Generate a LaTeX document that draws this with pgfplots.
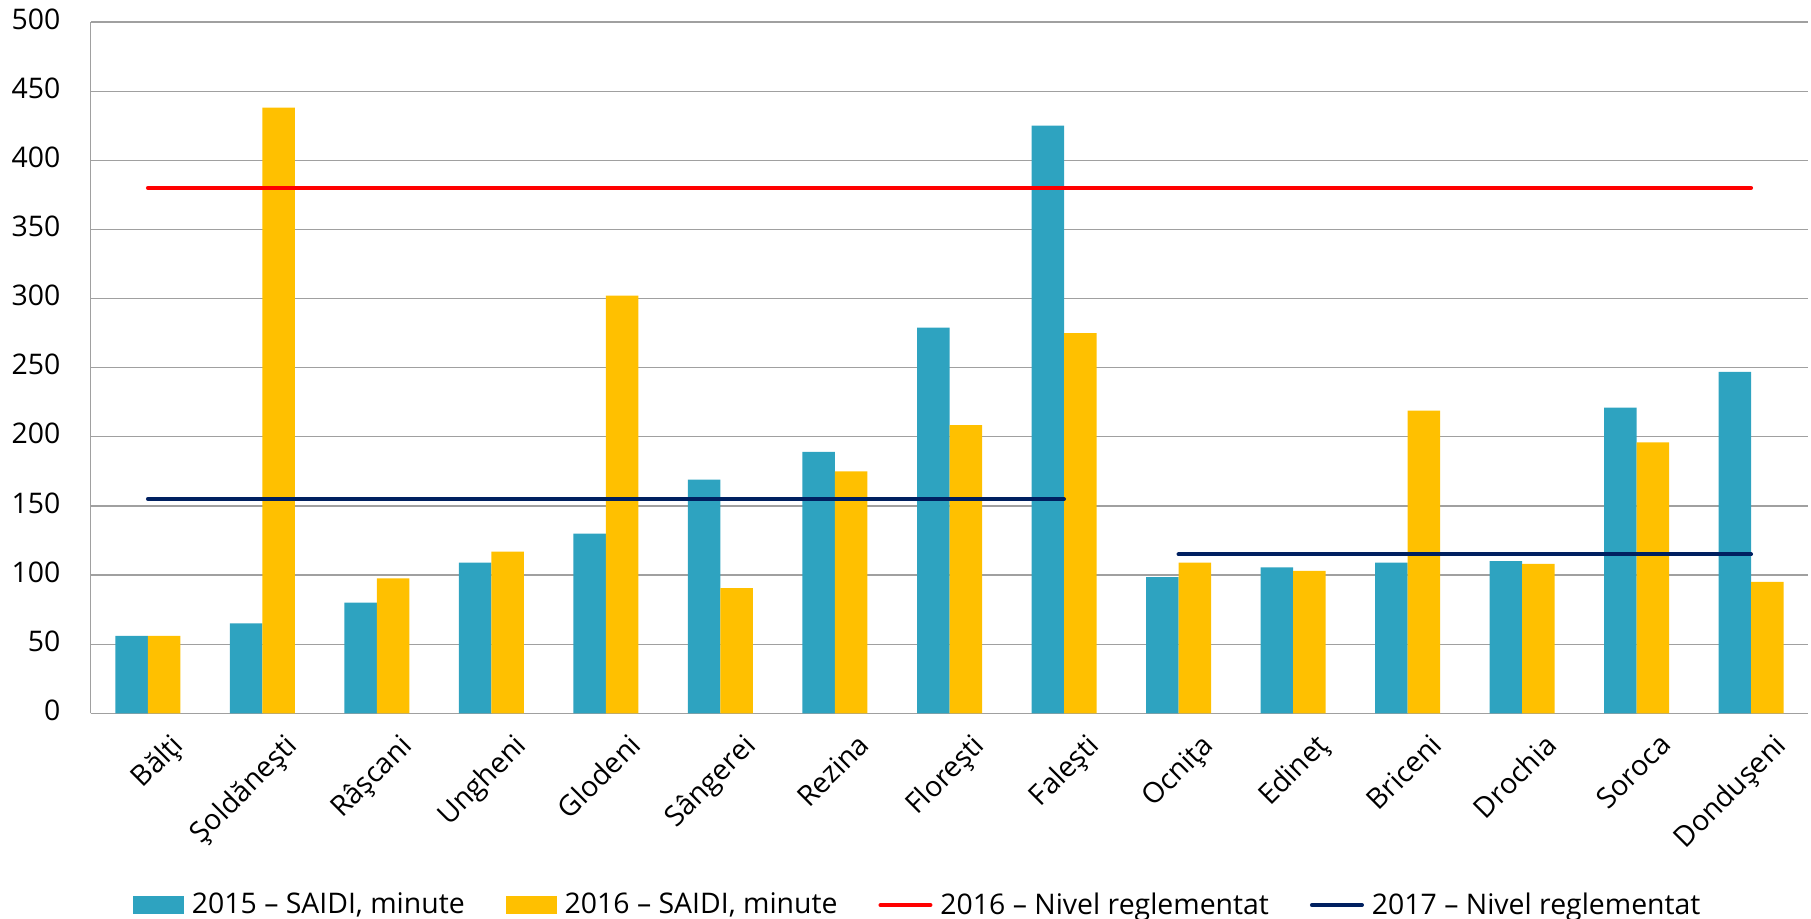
\documentclass[border=0pt]{standalone}
\usepackage{fontspec}
\setmainfont{Open Sans}
\usepackage{pgfplots}
\pgfplotsset{compat=1.18}
\definecolor{cblue}{HTML}{2EA3C0}
\definecolor{cyellow}{HTML}{FFC000}
\definecolor{cred}{HTML}{FF0000}
\definecolor{cnavy}{HTML}{002060}
\definecolor{cgrid}{HTML}{A0A0A0}
\begin{document}
\begin{tikzpicture}[font=\fontsize{14.2pt}{17pt}\selectfont]
\useasboundingbox (-45.35pt,-102.85pt) rectangle (860.15pt,356.65pt);
\begin{axis}[
  at={(0,0)}, anchor=south west,
  scale only axis,
  width=858.8pt, height=345.65pt,
  xmin=-0.5, xmax=14.5,
  ymin=0, ymax=500,
  xtick={0,...,14},
  xticklabels={Bălţi,Şoldăneşti,Râşcani,Ungheni,Glodeni,Sângerei,Rezina,Floreşti,Faleşti,Ocniţa,Edineţ,Briceni,Drochia,Soroca,Donduşeni},
  ytick={0,50,...,500},
  /pgf/number format/assume math mode=true,
  major tick length=0pt,
  axis x line*=bottom,
  axis y line*=left,
  axis line style={cgrid, line width=0.6pt, -},
  ymajorgrids,
  grid style={cgrid, line width=0.6pt},
  yticklabel style={inner sep=0pt, anchor=east, xshift=-15pt, yshift=1.5pt},
  xticklabel style={rotate=45, anchor=north east, inner sep=0pt, xshift=1pt, yshift=-14pt},
  legend columns=4,
  legend cell align=left,
  legend style={draw=none, fill=none, inner sep=0pt, outer sep=0pt,
    at={(rel axis cs:0.0246,-0.2774)}, anchor=west,
    nodes={inner sep=0pt},
    /tikz/every odd column/.append style={column sep=4pt},
    /tikz/every even column/.append style={column sep=20.5pt}},
]
\addplot[ybar, bar width=16.25pt, bar shift=-8.125pt, fill=cblue, draw=none,
  legend image code/.code={\fill[cblue] (0pt,-4.5pt) rectangle (25.5pt,4.5pt);}]
  coordinates {(0,56) (1,65) (2,80) (3,109) (4,130) (5,169) (6,189) (7,279) (8,425) (9,98.5) (10,105.5) (11,109) (12,110) (13,221) (14,247)};
\addlegendentry{2015 – SAIDI, minute}
\addplot[ybar, bar width=16.25pt, bar shift=8.125pt, fill=cyellow, draw=none,
  legend image code/.code={\fill[cyellow] (0pt,-4.5pt) rectangle (25.5pt,4.5pt);}]
  coordinates {(0,56) (1,438) (2,97.5) (3,117) (4,302) (5,90.5) (6,175) (7,208.5) (8,275) (9,109) (10,103) (11,219) (12,108) (13,196) (14,95)};
\addlegendentry{2016 – SAIDI, minute}
\addplot[cred, line width=2pt, line cap=round, mark=none,
  legend image code/.code={\draw[cred, line width=2pt, line cap=round] (1pt,0pt) -- (26pt,0pt);}]
  coordinates {(0,380) (14,380)};
\addlegendentry{2016 – Nivel reglementat}
\addplot[cnavy, line width=2pt, line cap=round, mark=none,
  legend image code/.code={\draw[cnavy, line width=2pt, line cap=round] (1pt,0pt) -- (26pt,0pt);}]
  coordinates {(0,155) (8,155)};
\addlegendentry{2017 – Nivel reglementat}
\addplot[cnavy, line width=2pt, line cap=round, mark=none, forget plot]
  coordinates {(9,115) (14,115)};
\end{axis}
\end{tikzpicture}
\end{document}
